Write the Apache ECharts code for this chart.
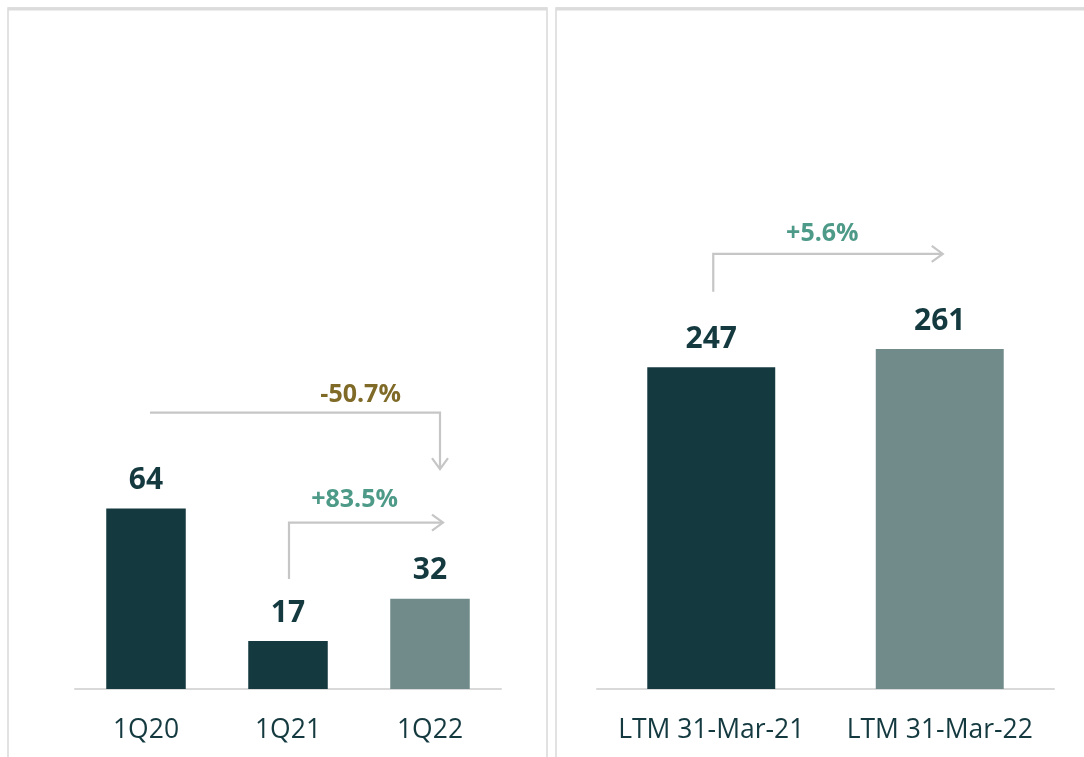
<!DOCTYPE html>
<html lang="en">
<head>
    <meta charset="UTF-8">
    <script src="https://cdn.jsdelivr.net/npm/echarts@6/dist/echarts.min.js"></script>
    <title>Quarter vs LTM</title>
    <style>
        html, body { margin: 0; padding: 0; background: #fff; }
    </style>
</head>
<body>
    <div id="main" style="width: 1084px; height: 757px;"></div>
    <script>
        // data
        var quarterCats = ['1Q20', '1Q21', '1Q22'];
        var quarterValues = [64, 17, 32];
        var ltmCats = ['LTM 31-Mar-21', 'LTM 31-Mar-22'];
        var ltmValues = [247, 261];
        var changeLabels = ['-50.7%', '+83.5%', '+5.6%'];

        var DARK = '#143a40';
        var LIGHT = '#718b8b';
        var FONT = '"Open Sans", "Noto Sans", sans-serif';

        var myChart = echarts.init(document.getElementById('main'));

        // last bar of each group is the lighter one
        function barData(values) {
            return values.map(function (v, i) {
                return {
                    value: v,
                    itemStyle: { color: (i === values.length - 1) ? LIGHT : DARK }
                };
            });
        }

        var axisX = function (cats, grid) {
            return {
                type: 'category',
                gridIndex: grid,
                data: cats,
                axisTick: { show: false },
                axisLine: { lineStyle: { color: '#d9d9d9', width: 2 } },
                axisLabel: {
                    interval: 0,
                    hideOverlap: false,
                    color: DARK, fontSize: 26.5, fontFamily: FONT, margin: 28
                }
            };
        };
        var axisY = function (max, grid) {
            return {
                type: 'value',
                gridIndex: grid,
                min: 0,
                max: max,
                show: false,
                splitLine: { show: false }
            };
        };
        var labelStyle = {
            show: true,
            position: 'top',
            distance: 13,
            color: DARK,
            fontSize: 30,
            fontWeight: 'bold',
            fontFamily: FONT
        };

        var option = {
            animation: false,
            grid: [
                { left: 75, right: 1084 - 501, top: 125, bottom: 68 },
                { left: 597, right: 1084 - 1054, top: 168, bottom: 68 }
            ],
            xAxis: [axisX(quarterCats, 0), axisX(ltmCats, 1)],
            yAxis: [axisY(200, 0), axisY(400, 1)],
            series: [
                {
                    type: 'bar', xAxisIndex: 0, yAxisIndex: 0,
                    barWidth: '56%',
                    data: barData(quarterValues),
                    label: labelStyle
                },
                {
                    type: 'bar', xAxisIndex: 1, yAxisIndex: 1,
                    barWidth: '56%',
                    data: barData(ltmValues),
                    label: labelStyle
                }
            ]
        };
        myChart.setOption(option);

        // annotation arrows, placed from the axes
        function px(grid, cat, val) {
            return myChart.convertToPixel({ gridIndex: grid }, [cat, val]);
        }
        var LINE = { stroke: '#c6c6c6', lineWidth: 2.2, fill: null };
        var g = [];

        // panel borders
        g.push({ type: 'rect', shape: { x: 8, y: 8, width: 539, height: 800 }, style: { stroke: '#d9d9d9', lineWidth: 1.5, fill: null } });
        g.push({ type: 'rect', shape: { x: 556, y: 8, width: 600, height: 800 }, style: { stroke: '#d9d9d9', lineWidth: 1.5, fill: null } });
        g.push({ type: 'line', shape: { x1: 8, y1: 9, x2: 547, y2: 9 }, style: { stroke: '#dcdcdc', lineWidth: 3 } });
        g.push({ type: 'line', shape: { x1: 556, y1: 9, x2: 1084, y2: 9 }, style: { stroke: '#dcdcdc', lineWidth: 3 } });

        function chevronRight(x, y) {
            return { type: 'polyline', shape: { points: [[x - 11, y - 8], [x, y], [x - 11, y + 8]] }, style: LINE };
        }
        function chevronDown(x, y) {
            return { type: 'polyline', shape: { points: [[x - 8, y - 11], [x, y], [x + 8, y - 11]] }, style: LINE };
        }
        function pctText(x, y, text, color) {
            return {
                type: 'text', x: x, y: y,
                style: { text: text, fill: color, font: 'bold 25px ' + FONT, align: 'center', verticalAlign: 'middle' }
            };
        }

        // -50.7%: 1Q20 -> 1Q22
        var a0 = px(0, '1Q20', 98);
        var a1 = px(0, '1Q22', 78);
        var endX = a1[0] + 10;
        g.push({ type: 'polyline', shape: { points: [[a0[0] + 4, a0[1]], [endX, a0[1]], [endX, a1[1]]] }, style: LINE });
        g.push(chevronDown(endX, a1[1]));
        g.push(pctText(a0[0] + (endX - a0[0]) * 0.73, a0[1] - 18, changeLabels[0], '#7f6a28'));

        // +83.5%: 1Q21 -> 1Q22
        var b0 = px(0, '1Q21', 39);
        var b1 = px(0, '1Q22', 59);
        var endB = b1[0] + 13;
        g.push({ type: 'polyline', shape: { points: [[b0[0] + 1, b0[1]], [b0[0] + 1, b1[1]], [endB, b1[1]]] }, style: LINE });
        g.push(chevronRight(endB, b1[1]));
        g.push(pctText(b0[0] + (endB - b0[0]) * 0.43, b1[1] - 23, changeLabels[1], '#4e9a88'));

        // +5.6%: LTM 21 -> LTM 22
        var c0 = px(1, ltmCats[0], 305);
        var c1 = px(1, ltmCats[1], 334);
        var endC = c1[0] + 3;
        g.push({ type: 'polyline', shape: { points: [[c0[0] + 2, c0[1]], [c0[0] + 2, c1[1]], [endC, c1[1]]] }, style: LINE });
        g.push(chevronRight(endC, c1[1]));
        g.push(pctText(c0[0] + (endC - c0[0]) * 0.48, c1[1] - 20, changeLabels[2], '#4e9a88'));

        myChart.setOption({ graphic: g });
    </script>
</body>
</html>
